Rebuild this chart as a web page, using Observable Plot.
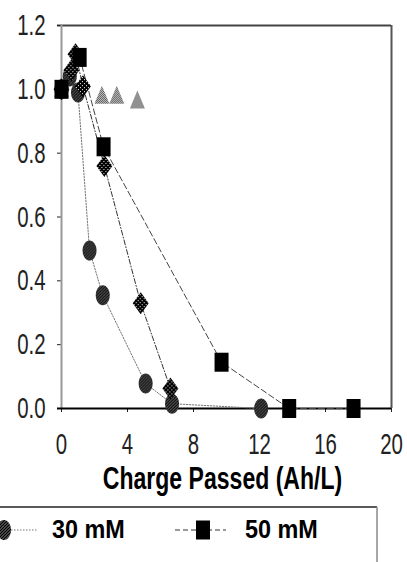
<!DOCTYPE html>
<html><head><meta charset="utf-8">
<script src="https://cdn.jsdelivr.net/npm/d3@7"></script>
<script src="https://cdn.jsdelivr.net/npm/@observablehq/plot@0.6"></script>
<style>
html,body{margin:0;padding:0;background:#fff;overflow:hidden}
#chart{width:407px;height:562px}
#chart svg{display:block}
</style></head><body><div id="chart"></div>
<script>
// ---- data ----
const xTicks = [0, 4, 8, 12, 16, 20];
const yTicks = [0, 0.2, 0.4, 0.6, 0.8, 1.0, 1.2];
const xLabel = "Charge Passed (Ah/L)";

const triX = [0, 2.45, 3.35, 4.6];
const triY = [1.0, 0.98, 0.98, 0.965];

const circName = "30 mM";
const circX = [0, 0.5, 1.0, 1.7, 2.5, 5.1, 6.7, 12.1];
const circY = [1.0, 1.04, 0.99, 0.495, 0.355, 0.078, 0.015, 0.0];

const diaX = [0, 0.6, 0.85, 1.3, 2.6, 4.8, 6.6];
const diaY = [1.0, 1.06, 1.11, 1.01, 0.76, 0.33, 0.063];

const sqName = "50 mM";
const sqX = [0, 1.1, 2.55, 9.7, 13.8, 17.7];
const sqY = [1.0, 1.10, 0.82, 0.145, 0.0, 0.0];

const pts = (xs, ys) => xs.map((x, i) => ({x, y: ys[i]}));
const tri = pts(triX, triY), circ = pts(circX, circY), dia = pts(diaX, diaY), sq = pts(sqX, sqY);

// custom (vertically stretched) symbols
const k = 0.5523;
const ellSym = {draw(c){const rx=7, ry=10;
  c.moveTo(rx,0);
  c.bezierCurveTo(rx,k*ry,k*rx,ry,0,ry);
  c.bezierCurveTo(-k*rx,ry,-rx,k*ry,-rx,0);
  c.bezierCurveTo(-rx,-k*ry,-k*rx,-ry,0,-ry);
  c.bezierCurveTo(k*rx,-ry,rx,-k*ry,rx,0);
  c.closePath();}};
const diaSym = {draw(c){c.moveTo(0,-11);c.lineTo(8,0);c.lineTo(0,11);c.lineTo(-8,0);c.closePath();}};
const triSym = {draw(c){c.moveTo(0,-10);c.lineTo(7.5,8);c.lineTo(-7.5,8);c.closePath();}};
const sqSym = {draw(c){c.rect(-7,-9.5,14,19);}};

const plot = Plot.plot({
  width: 407, height: 500,
  marginLeft: 61, marginRight: 16, marginTop: 25, marginBottom: 92,
  style: {fontFamily: "'Liberation Sans', Arial, sans-serif", background: "#fff"},
  x: {domain: [0, 20]},
  y: {domain: [0, 1.2]},
  marks: [
    Plot.ruleY([1.2], {stroke: "#444", strokeWidth: 2, insetLeft: -4}),
    Plot.ruleX([20], {stroke: "#555", strokeWidth: 2}),
    Plot.axisY({ticks: yTicks, tickFormat: d => d.toFixed(1), tickSize: 4, tickPadding: 12,
      fontSize: 30, color: "#222", label: null}),
    Plot.axisX({ticks: xTicks, tickFormat: d => String(d), tickSize: 4, tickPadding: 20,
      fontSize: 30, color: "#222", label: null}),
    Plot.ruleX([0], {stroke: "#999", strokeWidth: 2}),
    Plot.ruleY([0], {stroke: "#000", strokeWidth: 2, insetLeft: -4}),
    Plot.line(circ, {x: "x", y: "y", stroke: "#777", strokeWidth: 1, strokeDasharray: "1.5,1.5"}),
    Plot.line(dia, {x: "x", y: "y", stroke: "#333", strokeWidth: 1, strokeDasharray: "5,2,1,2"}),
    Plot.line(sq, {x: "x", y: "y", stroke: "#444", strokeWidth: 1, strokeDasharray: "6,3"}),
    Plot.dot(tri, {x: "x", y: "y", symbol: triSym, r: 5, fill: "url(#pCheck)", stroke: "none"}),
    Plot.dot(circ, {x: "x", y: "y", symbol: ellSym, r: 5, fill: "url(#pDiag)", stroke: "none"}),
    Plot.dot(dia, {x: "x", y: "y", symbol: diaSym, r: 5, fill: "url(#pDark)", stroke: "none"}),
    Plot.dot(sq, {x: "x", y: "y", symbol: sqSym, r: 5, fill: "#000", stroke: "none"}),
    Plot.text([xLabel], {frameAnchor: "bottom", dx: -4, dy: 80, lineAnchor: "bottom",
      fontSize: 32, fontWeight: "bold", fill: "#000"})
  ]
});

function addPatterns(svgNode, prefix) {
  const defs = d3.select(svgNode).insert("defs", ":first-child");
  const a = defs.append("pattern").attr("id", prefix + "Diag").attr("patternUnits", "userSpaceOnUse")
    .attr("width", 3).attr("height", 3);
  a.append("rect").attr("width", 3).attr("height", 3).attr("fill", "#fff");
  a.append("path").attr("d", "M-1,1L1,-1M0,3L3,0M2,4L4,2").attr("stroke", "#000").attr("stroke-width", 1.7);
  const b = defs.append("pattern").attr("id", prefix + "Dark").attr("patternUnits", "userSpaceOnUse")
    .attr("width", 4).attr("height", 4);
  b.append("rect").attr("width", 4).attr("height", 4).attr("fill", "#000");
  b.append("rect").attr("x", 1).attr("y", 1).attr("width", 1).attr("height", 1).attr("fill", "#fff");
  b.append("rect").attr("x", 3).attr("y", 3).attr("width", 1).attr("height", 1).attr("fill", "#fff");
  const c = defs.append("pattern").attr("id", prefix + "Check").attr("patternUnits", "userSpaceOnUse")
    .attr("width", 2).attr("height", 2);
  c.append("rect").attr("width", 2).attr("height", 2).attr("fill", "#fff");
  c.append("rect").attr("width", 1).attr("height", 1).attr("fill", "#222");
  c.append("rect").attr("x", 1).attr("y", 1).attr("width", 1).attr("height", 1).attr("fill", "#222");
}
addPatterns(plot, "p");

// narrow (condensed) look of the reference text
plot.querySelectorAll("text").forEach(t => {
  const s = t.getAttribute("font-weight") === "bold" || t.closest("[font-weight=bold]") ? 0.72 : 0.68;
  const tr = t.getAttribute("transform");
  if (tr) t.setAttribute("transform", tr + ` scale(${s},1)`);
  else {
    const x = +t.getAttribute("x") || 0, y = +t.getAttribute("y") || 0;
    t.removeAttribute("x"); t.removeAttribute("y");
    t.setAttribute("transform", `translate(${x},${y}) scale(${s},1)`);
  }
});

const root = document.getElementById("chart");
root.appendChild(plot);

// legend (below the chart)
const lg = d3.select(root).append("svg").attr("width", 407).attr("height", 62)
  .style("font-family", "'Liberation Sans', Arial, sans-serif");
addPatterns(lg.node(), "l");
lg.append("line").attr("x1", 0).attr("x2", 377).attr("y1", 7).attr("y2", 7).attr("stroke", "#222").attr("stroke-width", 1.5);
lg.append("line").attr("x1", 377).attr("x2", 377).attr("y1", 7).attr("y2", 62).attr("stroke", "#888").attr("stroke-width", 1.5);
lg.append("line").attr("x1", 11).attr("x2", 38).attr("y1", 30).attr("y2", 30).attr("stroke", "#777").attr("stroke-dasharray", "1.5,1.5");
lg.append("path").attr("transform", "translate(4,30)").attr("d", d3.symbol(ellSym)()).attr("fill", "url(#lDiag)");
lg.append("text").attr("x", 52).attr("y", 38).attr("font-size", 26).attr("font-weight", "bold")
  .attr("transform", "translate(52,0) scale(0.9,1) translate(-52,0)").text(circName);
lg.append("line").attr("x1", 175).attr("x2", 226).attr("y1", 30).attr("y2", 30).attr("stroke", "#333").attr("stroke-dasharray", "5,3");
lg.append("path").attr("transform", "translate(203,30)").attr("d", d3.symbol(sqSym)()).attr("fill", "#000");
lg.append("text").attr("x", 245).attr("y", 38).attr("font-size", 26).attr("font-weight", "bold")
  .attr("transform", "translate(245,0) scale(0.9,1) translate(-245,0)").text(sqName);
</script></body></html>
